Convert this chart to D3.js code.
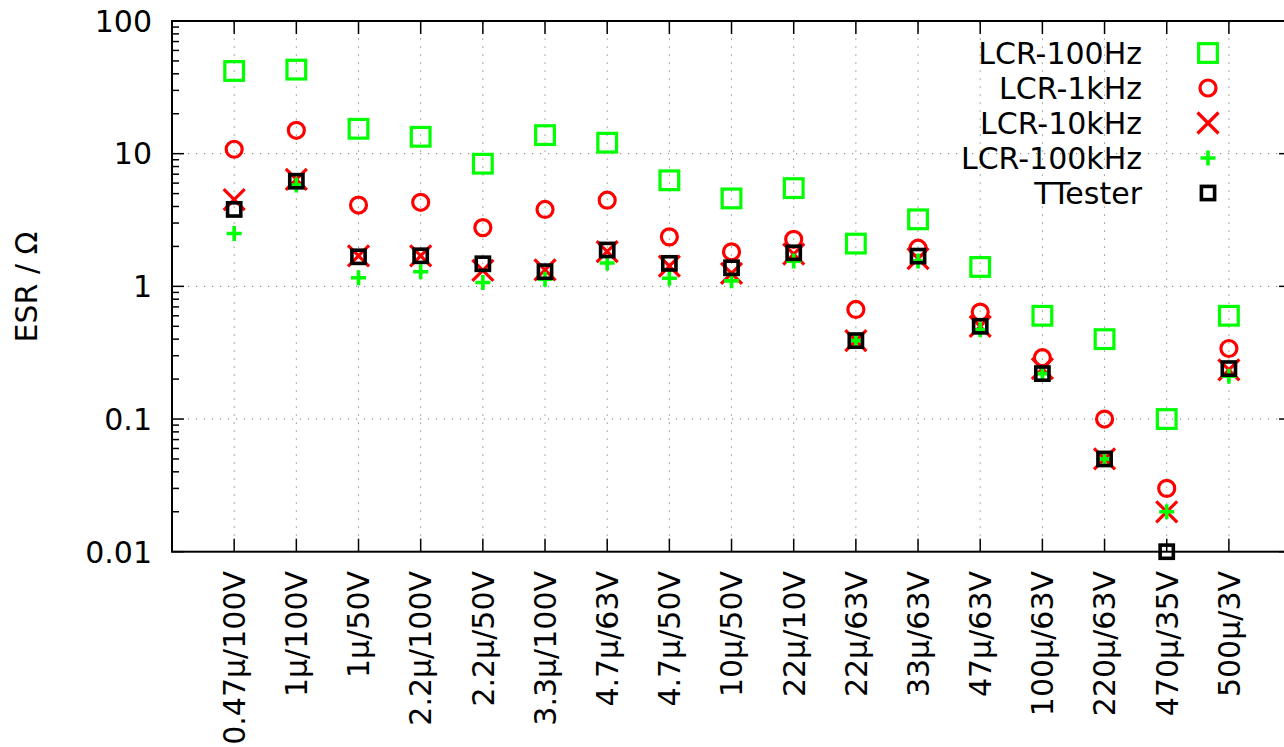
<!DOCTYPE html>
<html>
<head>
<meta charset="utf-8">
<script src="https://cdn.jsdelivr.net/npm/d3@7"></script>
<style>
  html, body { margin: 0; padding: 0; background: #fff; }
  svg { display: block; font-family: "DejaVu Sans", sans-serif; }
</style>
</head>
<body>
<svg id="chart" width="1284" height="747"></svg>
<script>
const categories = ["0.47μ/100V","1μ/100V","1μ/50V","2.2μ/100V","2.2μ/50V","3.3μ/100V","4.7μ/63V","4.7μ/50V","10μ/50V","22μ/10V","22μ/63V","33μ/63V","47μ/63V","100μ/63V","220μ/63V","470μ/35V","500μ/3V"];
const lcr100Hz  = [42, 43, 15.4, 13.4, 8.4, 13.8, 12.1, 6.3, 4.6, 5.5, 2.1, 3.2, 1.4, 0.6, 0.4, 0.1, 0.6];
const lcr1kHz   = [10.8, 15, 4.1, 4.3, 2.77, 3.8, 4.46, 2.36, 1.82, 2.26, 0.67, 1.94, 0.64, 0.29, 0.1, 0.03, 0.34];
const lcr10kHz  = [4.5, 6.4, 1.7, 1.7, 1.32, 1.33, 1.83, 1.42, 1.25, 1.75, 0.39, 1.62, 0.5, 0.24, 0.05, 0.02, 0.235];
const lcr100kHz = [2.5, 5.8, 1.16, 1.29, 1.07, 1.13, 1.5, 1.15, 1.1, 1.55, 0.39, 1.55, 0.47, 0.22, 0.05, 0.02, 0.21];
const ttester   = [3.8, 6.2, 1.67, 1.7, 1.48, 1.29, 1.88, 1.49, 1.38, 1.79, 0.39, 1.69, 0.5, 0.22, 0.05, 0.01, 0.24];
const seriesNames = ["LCR-100Hz", "LCR-1kHz", "LCR-10kHz", "LCR-100kHz", "TTester"];
const yTickValues = [0.01, 0.1, 1, 10, 100];
const yTickLabels = ["0.01", "0.1", "1", "10", "100"];
const yAxisTitle = "ESR / Ω";

(function () {
const svg = d3.select("#chart");
const pLeft = 172, pTop = 21, pBottom = 551.7, step = 62.17;
const pRight = pLeft + 18 * step;
const x = d3.scaleLinear().domain([0, 18]).range([pLeft, pRight]);
const y = d3.scaleLog().domain([0.01, 100]).range([pBottom, pTop]);
const FS = 30;

// grid
const grid = svg.append("g").attr("stroke", "#777").attr("stroke-width", 1).attr("stroke-dasharray", "1.2,6.8");
categories.forEach((c, i) => {
  grid.append("line").attr("x1", x(i + 1)).attr("x2", x(i + 1)).attr("y1", pBottom).attr("y2", pTop);
});
yTickValues.slice(1, -1).forEach(v => {
  grid.append("line").attr("x1", pLeft).attr("x2", pRight).attr("y1", y(v)).attr("y2", y(v));
});

// ticks
const tk = svg.append("g").attr("stroke", "#000").attr("stroke-width", 1.5);
const minorVals = [];
for (let d = 0.01; d < 100; d *= 10) for (let m = 2; m <= 9; m++) minorVals.push(+(d * m).toPrecision(3));
yTickValues.forEach(v => {
  tk.append("line").attr("x1", pLeft).attr("x2", pLeft + 12).attr("y1", y(v)).attr("y2", y(v));
  tk.append("line").attr("x1", pRight).attr("x2", pRight - 12).attr("y1", y(v)).attr("y2", y(v));
});
minorVals.forEach(v => {
  tk.append("line").attr("x1", pLeft).attr("x2", pLeft + 7).attr("y1", y(v)).attr("y2", y(v));
  tk.append("line").attr("x1", pRight).attr("x2", pRight - 7).attr("y1", y(v)).attr("y2", y(v));
});
categories.forEach((c, i) => {
  tk.append("line").attr("x1", x(i + 1)).attr("x2", x(i + 1)).attr("y1", pBottom).attr("y2", pBottom - 13);
  tk.append("line").attr("x1", x(i + 1)).attr("x2", x(i + 1)).attr("y1", pTop).attr("y2", pTop + 13);
});

// frame
svg.append("rect").attr("x", pLeft).attr("y", pTop).attr("width", pRight - pLeft).attr("height", pBottom - pTop)
  .attr("fill", "none").attr("stroke", "#000").attr("stroke-width", 2);

// y labels
yTickValues.forEach((v, i) => {
  svg.append("text").attr("x", 152).attr("y", y(v)).attr("dy", "0.36em")
    .attr("text-anchor", "end").attr("font-size", FS).text(yTickLabels[i]);
});
// x labels
categories.forEach((c, i) => {
  svg.append("text").attr("transform", `translate(${x(i + 1)},571) rotate(-90)`)
    .attr("dy", "0.36em").attr("text-anchor", "end").attr("font-size", FS).text(c);
});
// y title
svg.append("text").attr("transform", `translate(26,287) rotate(-90)`).attr("dy", "0.36em")
  .attr("text-anchor", "middle").attr("font-size", FS).text(yAxisTitle);

// marker drawers
function sq(g, cx, cy, s, color, w) {
  g.append("rect").attr("x", cx - s / 2).attr("y", cy - s / 2).attr("width", s).attr("height", s)
    .attr("fill", "none").attr("stroke", color).attr("stroke-width", w);
}
function circ(g, cx, cy, color) {
  g.append("circle").attr("cx", cx).attr("cy", cy).attr("r", 8).attr("fill", "none").attr("stroke", color).attr("stroke-width", 3.2);
}
function cross(g, cx, cy, color) {
  const h = 10.5;
  g.append("path").attr("d", `M${cx-h},${cy-h}L${cx+h},${cy+h}M${cx-h},${cy+h}L${cx+h},${cy-h}`)
    .attr("stroke", color).attr("stroke-width", 3.2).attr("fill", "none");
}
function plus(g, cx, cy, color) {
  const h = 7.5;
  g.append("path").attr("d", `M${cx-h},${cy}L${cx+h},${cy}M${cx},${cy-h}L${cx},${cy+h}`)
    .attr("stroke", color).attr("stroke-width", 3.6).attr("fill", "none");
}
const drawers = [
  (g, cx, cy) => sq(g, cx, cy, 18.7, "#00ff00", 3.2),
  (g, cx, cy) => circ(g, cx, cy, "#ff0000"),
  (g, cx, cy) => cross(g, cx, cy, "#ff0000"),
  (g, cx, cy) => plus(g, cx, cy, "#00ff00"),
  (g, cx, cy) => sq(g, cx, cy, 13.2, "#000000", 3.6)
];
const allSeries = [lcr100Hz, lcr1kHz, lcr10kHz, lcr100kHz, ttester];

allSeries.forEach((vals, si) => {
  const g = svg.append("g");
  vals.forEach((v, i) => drawers[si](g, x(i + 1), y(v)));
});

// legend
seriesNames.forEach((n, i) => {
  const ly = 53 + i * 35;
  svg.append("text").attr("x", 1142).attr("y", ly).attr("dy", "0.36em").attr("text-anchor", "end")
    .attr("font-size", FS).text(n);
  drawers[i](svg.append("g"), 1208, ly);
});
})();
</script>
</body>
</html>
